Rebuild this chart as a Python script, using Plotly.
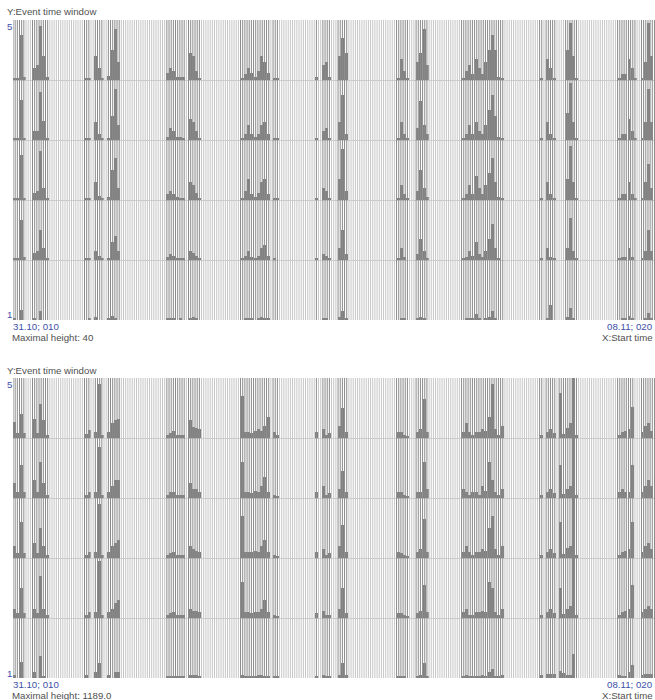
import plotly.graph_objects as go

W, H = 655, 700
N_SLOTS = 197.5          # time slots across each panel
LINE_STEP = 2.0 / 3.0    # grid line spacing in slot units

# ---------------- panel 1 : maximal height 40 ----------------
P1_MAX = 40
p1_slots = [0, 1, 2, 3, 6, 7, 8, 9, 10,
            22, 23, 25, 26, 27, 29, 30, 31, 32,
            47, 48, 49, 50, 51, 52, 54, 55, 56, 57,
            70, 71, 72, 73, 74, 75, 76, 77, 78, 80, 81,
            93, 95, 96, 97, 100, 101, 102,
            118, 119, 120, 121, 124, 125, 126, 127,
            138, 139, 140, 141, 142, 143, 144, 145, 146, 147, 148, 149, 150,
            162, 164, 165, 166, 170, 171, 172, 173,
            186, 187, 188, 189, 190, 191, 193, 194, 195, 196, 197]
p1_row5 = [1, 1, 30, 2, 8, 10, 36, 16, 2,
           1, 1, 16, 8, 1, 3, 20, 34, 12,
           5, 8, 6, 2, 2, 2, 18, 16, 6, 1,
           1, 4, 8, 5, 2, 6, 16, 12, 5, 1, 1,
           2, 10, 12, 2, 16, 28, 18,
           1, 14, 6, 1, 12, 18, 34, 10,
           1, 6, 10, 4, 14, 8, 4, 12, 20, 30, 20, 2, 1,
           1, 14, 8, 1, 20, 38, 16, 1,
           1, 4, 4, 14, 8, 1, 1, 12, 38, 16, 1]
p1_row4 = [1, 1, 27, 1, 6, 6, 32, 13, 1,
           1, 1, 12, 4, 1, 1, 16, 34, 10,
           2, 8, 6, 2, 2, 1, 14, 12, 6, 1,
           1, 4, 10, 4, 2, 4, 10, 12, 4, 1, 1,
           1, 6, 8, 1, 12, 30, 4,
           1, 12, 4, 1, 8, 26, 10, 4,
           1, 4, 10, 4, 12, 6, 4, 10, 20, 30, 16, 2, 1,
           1, 12, 4, 1, 18, 38, 12, 1,
           1, 4, 4, 14, 6, 1, 1, 12, 34, 12, 1]
p1_row3 = [1, 1, 30, 1, 5, 6, 33, 8, 1,
           1, 1, 12, 3, 1, 2, 20, 28, 8,
           4, 6, 4, 2, 1, 1, 12, 10, 5, 1,
           1, 6, 14, 4, 2, 5, 12, 14, 4, 1, 1,
           1, 8, 6, 1, 14, 34, 6,
           1, 10, 4, 1, 6, 20, 8, 2,
           1, 4, 10, 4, 16, 8, 4, 10, 18, 28, 12, 2, 1,
           1, 12, 4, 1, 14, 36, 12, 1,
           1, 4, 4, 12, 4, 1, 1, 12, 24, 8, 1]
p1_row2 = [1, 1, 27, 2, 5, 6, 20, 8, 1,
           1, 1, 6, 3, 1, 1, 12, 16, 6,
           2, 4, 3, 1, 1, 1, 6, 5, 3, 1,
           1, 3, 6, 2, 1, 3, 8, 10, 3, 1, 0,
           1, 4, 3, 1, 8, 20, 4,
           1, 8, 2, 0, 4, 14, 6, 1,
           1, 2, 6, 3, 12, 4, 2, 6, 14, 24, 8, 1, 0,
           1, 8, 2, 1, 8, 28, 6, 1,
           1, 2, 2, 8, 2, 0, 1, 6, 20, 6, 1]
p1_row1 = [1, 0, 7, 0, 1, 0, 6, 0, 0,
           0, 1, 2, 0, 0, 1, 3, 1, 0,
           1, 1, 1, 0, 1, 0, 1, 2, 1, 0,
           0, 1, 1, 1, 0, 1, 2, 1, 1, 0, 0,
           0, 1, 1, 0, 2, 6, 1,
           0, 1, 1, 0, 1, 2, 1, 0,
           0, 1, 1, 1, 4, 1, 0, 1, 2, 6, 1, 0, 0,
           0, 1, 10, 0, 2, 8, 1, 0,
           0, 1, 1, 3, 1, 0, 0, 1, 5, 1, 0]

# ---------------- panel 2 : maximal height 1189.0 ----------------
P2_MAX = 1189.0
p2_slots = [0, 1, 2, 3, 6, 7, 8, 9, 10,
            22, 23, 25, 26, 27, 29, 30, 31, 32,
            47, 48, 49, 50, 51, 52, 54, 55, 56, 57,
            70, 71, 72, 73, 74, 75, 76, 77, 78, 80, 81,
            93, 95, 96, 97, 100, 101, 102,
            118, 119, 120, 121, 124, 125, 126, 127,
            138, 139, 140, 141, 142, 143, 144, 145, 146, 147, 148, 149, 150,
            162, 164, 165, 166, 168, 169, 170, 171, 172, 173,
            186, 187, 188, 189, 190, 193, 194, 195, 196, 197]
p2_row5 = [320, 95, 475, 95, 380, 95, 680, 355, 60,
           70, 165, 120, 1070, 60, 120, 300, 355, 380,
           60, 95, 145, 60, 60, 60, 355, 215, 200, 180,
           830, 120, 120, 95, 145, 180, 145, 240, 415, 120, 60,
           120, 180, 60, 95, 240, 595, 120,
           120, 120, 60, 35, 120, 180, 770, 120,
           120, 300, 120, 60, 120, 120, 180, 145, 415, 1070, 180, 60, 240,
           60, 120, 180, 95, 890, 85, 200, 300, 1189, 60,
           60, 120, 145, 180, 620, 120, 240, 300, 145, 355]
p2_row4 = [300, 120, 650, 120, 355, 120, 710, 300, 60,
           60, 120, 120, 1010, 60, 120, 240, 355, 355,
           60, 120, 120, 60, 60, 60, 300, 180, 180, 120,
           710, 120, 120, 95, 145, 120, 240, 415, 120, 60, 35,
           120, 240, 60, 95, 180, 535, 120,
           120, 120, 60, 35, 120, 120, 710, 180,
           180, 120, 60, 120, 120, 60, 240, 145, 710, 355, 120, 60, 180,
           60, 120, 180, 95, 650, 85, 180, 240, 1189, 60,
           120, 180, 120, 120, 650, 120, 240, 355, 240, 415]
p2_row3 = [240, 95, 710, 95, 300, 95, 595, 240, 60,
           60, 120, 120, 1070, 60, 120, 240, 300, 355,
           60, 95, 120, 60, 60, 60, 240, 180, 145, 120,
           830, 120, 120, 120, 145, 120, 240, 355, 120, 60, 35,
           120, 180, 60, 95, 240, 650, 120,
           120, 95, 60, 35, 120, 180, 770, 120,
           120, 240, 120, 60, 120, 120, 180, 145, 600, 830, 180, 60, 240,
           60, 120, 180, 95, 710, 85, 200, 240, 1189, 60,
           60, 120, 145, 180, 710, 120, 240, 300, 180, 415]
p2_row2 = [180, 95, 595, 95, 180, 95, 830, 180, 60,
           60, 120, 120, 1130, 60, 120, 180, 300, 355,
           60, 95, 120, 60, 60, 60, 180, 145, 145, 120,
           710, 120, 120, 95, 120, 120, 180, 355, 120, 60, 35,
           95, 145, 60, 60, 180, 595, 95,
           95, 95, 60, 35, 95, 145, 650, 120,
           120, 180, 60, 60, 120, 120, 145, 120, 710, 600, 120, 60, 180,
           60, 120, 180, 95, 595, 85, 180, 240, 1189, 60,
           60, 120, 145, 180, 650, 120, 180, 240, 180, 355]
p2_row1 = [60, 0, 320, 0, 120, 0, 440, 35, 0,
           60, 0, 120, 300, 0, 60, 0, 120, 120,
           35, 35, 35, 35, 35, 35, 60, 60, 50, 35,
           60, 35, 35, 35, 35, 60, 60, 35, 35, 25, 25,
           35, 60, 35, 35, 60, 300, 60,
           35, 35, 35, 0, 35, 60, 300, 35,
           35, 60, 35, 35, 35, 35, 60, 35, 120, 180, 35, 35, 60,
           60, 85, 85, 85, 145, 95, 60, 60, 475, 0,
           60, 35, 35, 120, 260, 60, 85, 85, 85, 85]

FONT = "Liberation Sans, Arial, sans-serif"
BLUE = "#3d4fa8"
GREY_TXT = "#505050"
BAR = "#808080"
LIGHT = "#c6c6c6"
DARK = "#8a8a8a"

fig = go.Figure()


def add_panel(xa, ya, slots, rows, vmax):
    active = {s for i, s in enumerate(slots) if any(r[i] > 0 for r in rows)}
    lx, ly, dx, dy = [], [], [], []
    k = 0
    while k * LINE_STEP <= N_SLOTS:
        p = k * LINE_STEP
        if int(p) in active:
            dx += [p, p, None]
            dy += [0, 5, None]
        else:
            lx += [p, p, None]
            ly += [0, 5, None]
        k += 1
    fig.add_trace(go.Scatter(x=lx, y=ly, mode="lines", line=dict(color=LIGHT, width=1),
                             xaxis=xa, yaxis=ya, hoverinfo="skip", showlegend=False))
    fig.add_trace(go.Scatter(x=dx, y=dy, mode="lines", line=dict(color=DARK, width=1),
                             xaxis=xa, yaxis=ya, hoverinfo="skip", showlegend=False))
    xs, ys, bases = [], [], []
    for r, vals in enumerate(rows):
        for s, v in zip(slots, vals):
            if v > 0:
                xs.append(s + 0.5)
                ys.append(min(v / vmax, 1.0))
                bases.append(r)
    fig.add_trace(go.Bar(x=xs, y=ys, base=bases, width=0.92,
                         marker=dict(color=BAR, line=dict(width=0)),
                         xaxis=xa, yaxis=ya, hoverinfo="skip", showlegend=False))


add_panel("x", "y", p1_slots, [p1_row1, p1_row2, p1_row3, p1_row4, p1_row5], P1_MAX)
add_panel("x2", "y2", p2_slots, [p2_row1, p2_row2, p2_row3, p2_row4, p2_row5], P2_MAX)


def px(x):
    return x / W


def py(y):
    return 1 - y / H


xcommon = dict(range=[0, N_SLOTS], showgrid=False, zeroline=False, showticklabels=False,
               ticks="", showline=False, fixedrange=True)
ycommon = dict(range=[0, 5], tickvals=[1, 2, 3, 4, 5], showgrid=True, gridcolor="#cfcfcf",
               gridwidth=1, zeroline=False, showticklabels=False, ticks="", showline=False,
               fixedrange=True)

fig.update_layout(
    width=W, height=H,
    margin=dict(l=0, r=0, t=0, b=0),
    paper_bgcolor="white", plot_bgcolor="white",
    barmode="overlay", bargap=0,
    showlegend=False,
    font=dict(family=FONT, size=10, color=GREY_TXT),
    xaxis=dict(domain=[px(13), 1], anchor="y", **xcommon),
    yaxis=dict(domain=[py(320), py(20)], anchor="x", **ycommon),
    xaxis2=dict(domain=[px(13), 1], anchor="y2", **xcommon),
    yaxis2=dict(domain=[py(678), py(378)], anchor="x2", **ycommon),
)

labels = []
for off, maxtxt in [(0, "Maximal height: 40"), (358, "Maximal height: 1189.0")]:
    labels += [
        dict(text="Y:Event time window", x=px(6), y=py(12 + off), xanchor="left", color=GREY_TXT),
        dict(text="5", x=px(9), y=py(26 + off), xanchor="center", color=BLUE),
        dict(text="1", x=px(9), y=py(315 + off), xanchor="center", color=BLUE),
        dict(text="31.10; 010", x=px(12), y=py(326 + off), xanchor="left", color=BLUE),
        dict(text=maxtxt, x=px(11), y=py(337 + off), xanchor="left", color=GREY_TXT),
        dict(text="08.11; 020", x=px(654), y=py(326 + off), xanchor="right", color=BLUE),
        dict(text="X:Start time", x=px(654), y=py(337 + off), xanchor="right", color=GREY_TXT),
    ]

for lab in labels:
    fig.add_annotation(text=lab["text"], x=lab["x"], y=lab["y"], xref="paper", yref="paper",
                       xanchor=lab["xanchor"], yanchor="middle", showarrow=False,
                       borderpad=0, font=dict(family=FONT, size=9.7, color=lab["color"]))

fig.write_html("out.html", config={"displayModeBar": False},
               post_script="document.body.style.margin='0';")
